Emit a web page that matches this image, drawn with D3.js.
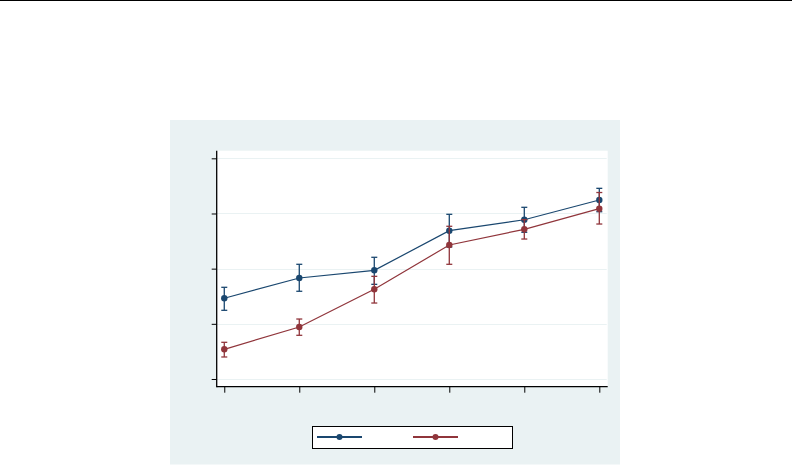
<!DOCTYPE html>
<html><head><meta charset="utf-8">
<script src="https://cdn.jsdelivr.net/npm/d3@7"></script>
<style>html,body{margin:0;padding:0;background:#fff;}svg{display:block;}</style>
</head><body>
<svg id="c" width="792" height="465"></svg>
<script>
const categories = [1, 2, 3, 4, 5, 6];
const yTicks = [0, 1, 2, 3, 4];
const blueMean = [1.463, 1.831, 1.970, 2.688, 2.887, 3.244];
const blueLo   = [1.245, 1.590, 1.716, 2.392, 2.659, 3.032];
const blueHi   = [1.662, 2.079, 2.206, 2.985, 3.112, 3.456];
const redMean  = [0.538, 0.942, 1.626, 2.429, 2.713, 3.087];
const redLo    = [0.399, 0.792, 1.377, 2.079, 2.537, 2.809];
const redHi    = [0.665, 1.087, 1.861, 2.768, 2.889, 3.380];

const series = [
  {color: "#1a476f", mean: blueMean, lo: blueLo, hi: blueHi},
  {color: "#90353b", mean: redMean, lo: redLo, hi: redHi}
];

const svg = d3.select("#c");
// top rule
svg.append("line").attr("x1",0).attr("x2",792).attr("y1",0.5).attr("y2",0.5)
  .attr("stroke","#000").attr("stroke-width",1);
// panel
svg.append("rect").attr("x",170).attr("y",120).attr("width",450).attr("height",344.5).attr("fill","#eaf2f3");
const P = {l:216.7, r:607.7, t:150.7, b:386.7};
svg.append("rect").attr("x",P.l).attr("y",P.t).attr("width",P.r-P.l).attr("height",P.b-P.t).attr("fill","#fff");

const x = d3.scaleLinear().domain([0.899, 6.112]).range([P.l, P.r]);
const y = d3.scaleLinear().domain([-0.1396, 4.138]).range([P.b, P.t]);

// grid
svg.append("g").selectAll("line").data(yTicks).join("line")
  .attr("x1",P.l).attr("x2",P.r-1).attr("y1",d=>Math.round(y(d))+0.5).attr("y2",d=>Math.round(y(d))+0.5)
  .attr("stroke","#eaf2f3").attr("stroke-width",1);

// axes
const yAx = svg.append("g").attr("transform",`translate(${P.l},0)`)
  .call(d3.axisLeft(y).tickValues(yTicks).tickSize(5).tickFormat(""));
yAx.select(".domain").remove();
yAx.selectAll("line").attr("stroke","#000");
const xAx = svg.append("g").attr("transform",`translate(0,${P.b})`)
  .call(d3.axisBottom(x).tickValues(categories).tickSize(6).tickFormat(""));
xAx.select(".domain").remove();
xAx.selectAll("line").attr("stroke","#000");
svg.append("line").attr("x1",P.l).attr("x2",P.l).attr("y1",P.t).attr("y2",P.b+0.5).attr("stroke","#000").attr("stroke-width",1.3);
svg.append("line").attr("x1",P.l).attr("x2",P.r).attr("y1",P.b).attr("y2",P.b).attr("stroke","#000").attr("stroke-width",1.3);

const line = d3.line().x((d,i)=>x(categories[i])).y(d=>y(d));
series.forEach(s=>{
  const g = svg.append("g");
  const idx = categories.map((c,i)=>i);
  // error bars
  g.selectAll(".v").data(idx).join("line")
    .attr("x1",i=>x(categories[i])).attr("x2",i=>x(categories[i]))
    .attr("y1",i=>y(s.lo[i])).attr("y2",i=>y(s.hi[i]))
    .attr("stroke",s.color).attr("stroke-width",1.3);
  ["lo","hi"].forEach(k=>{
    g.selectAll(".c"+k).data(idx).join("line")
      .attr("x1",i=>x(categories[i])-3).attr("x2",i=>x(categories[i])+3)
      .attr("y1",i=>y(s[k][i])).attr("y2",i=>y(s[k][i]))
      .attr("stroke",s.color).attr("stroke-width",1.3);
  });
  g.append("path").datum(s.mean).attr("d",line).attr("fill","none")
    .attr("stroke",s.color).attr("stroke-width",1.2);
  g.selectAll("circle").data(idx).join("circle")
    .attr("cx",i=>x(categories[i])).attr("cy",i=>y(s.mean[i])).attr("r",3.2)
    .attr("fill",s.color);
});

// legend
svg.append("rect").attr("x",312.5).attr("y",426.5).attr("width",200).attr("height",22)
  .attr("fill","#fff").attr("stroke","#000").attr("stroke-width",1);
const leg = [{x1:317,x2:362,color:series[0].color},{x1:413,x2:458,color:series[1].color}];
leg.forEach(d=>{
  svg.append("line").attr("x1",d.x1).attr("x2",d.x2).attr("y1",437).attr("y2",437)
    .attr("stroke",d.color).attr("stroke-width",1.8);
  svg.append("circle").attr("cx",(d.x1+d.x2)/2).attr("cy",437).attr("r",3).attr("fill",d.color);
});
</script>
</body></html>
